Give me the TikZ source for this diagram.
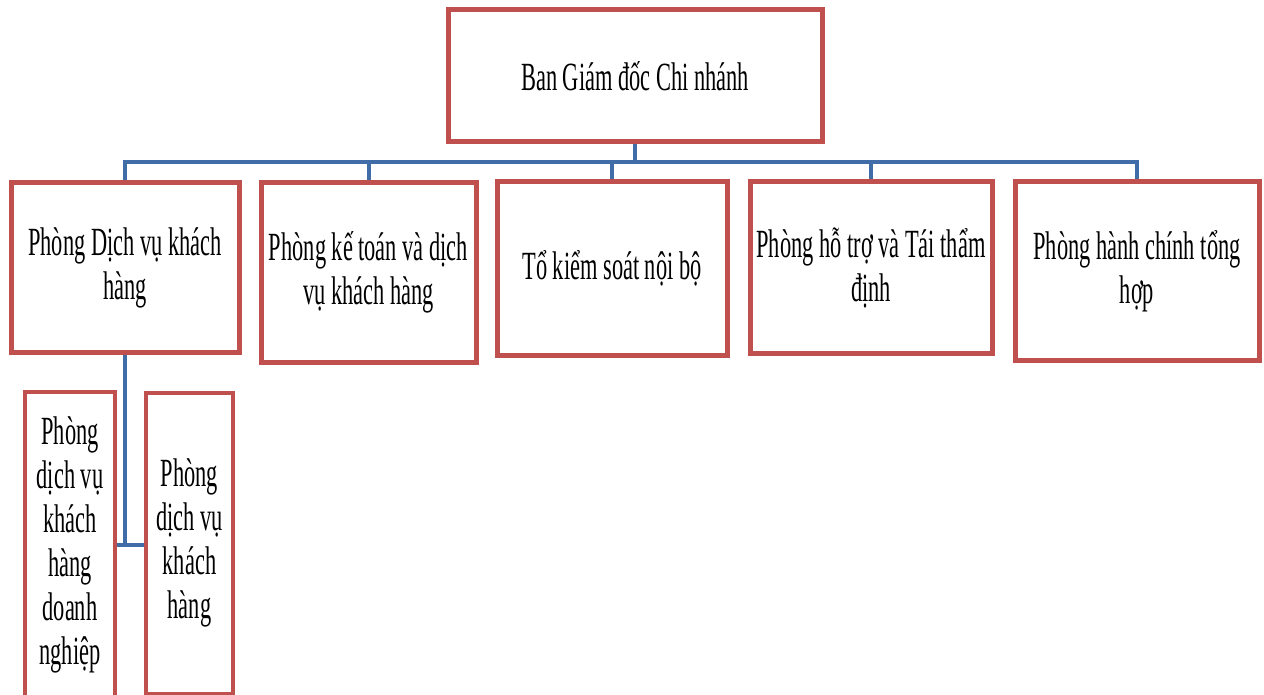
\documentclass[tikz,border=0pt]{standalone}
\usepackage{fontspec}
\setmainfont[FakeStretch=0.56]{Liberation Serif}
\definecolor{boxred}{RGB}{192,80,77}
\definecolor{linkblue}{RGB}{64,108,168}
\tikzset{
  unit/.style={draw=boxred, line width=5pt, align=center, inner sep=0pt,
    font=\fontsize{40}{44}\selectfont},
  subunit/.style={unit, line width=4pt},
  link/.style={draw=linkblue, line width=4pt},
}

\begin{document}
\begin{tikzpicture}[x=1pt, y=-1pt]
    \useasboundingbox (0,0) rectangle (1264,695);
    \clip (0,0) rectangle (1264,695);
    % board
    \node [unit, minimum width=374pt, minimum height=132pt] (bgd) at (635,76) {Ban Giám đốc Chi nhánh};
    % departments
    \node [unit, minimum width=228pt, minimum height=169pt] (dvkh) at (125,267.5) {Phòng Dịch vụ khách\\hàng};
    \node [unit, minimum width=215pt, minimum height=179pt] (ketoan) at (368.5,272.5) {Phòng kế toán và dịch\\vụ khách hàng};
    \node [unit, minimum width=230pt, minimum height=173pt] (ksnb) at (612,268.5) {Tổ kiểm soát nội bộ};
    \node [unit, minimum width=242pt, minimum height=171pt] (hotro) at (871,267.5) {Phòng hỗ trợ và Tái thẩm\\định};
    \node [unit, minimum width=244pt, minimum height=178pt] (hcth) at (1137,271) {Phòng hành chính tổng\\hợp};
    % sub units
    \node [subunit, minimum width=90pt, minimum height=306pt] (dndn) at (70,545) {Phòng\\dịch vụ\\khách\\hàng\\doanh\\nghiệp};
    \node [subunit, minimum width=87pt, minimum height=301pt] (dvcn) at (189.5,543) {Phòng\\dịch vụ\\khách\\hàng};

    \coordinate (bar) at (635,162);
    \coordinate (sj) at (125,545);
    \draw [link] (bgd.south) -- (bar);
    \foreach \d in {dvkh,ketoan,ksnb,hotro,hcth}
        \draw [link] (bar) -| (\d.north);
    \draw [link] (dvkh.south) -- (sj);
    \draw [link] (dndn.east |- sj) -- (dvcn.west |- sj);
\end{tikzpicture}
\end{document}
